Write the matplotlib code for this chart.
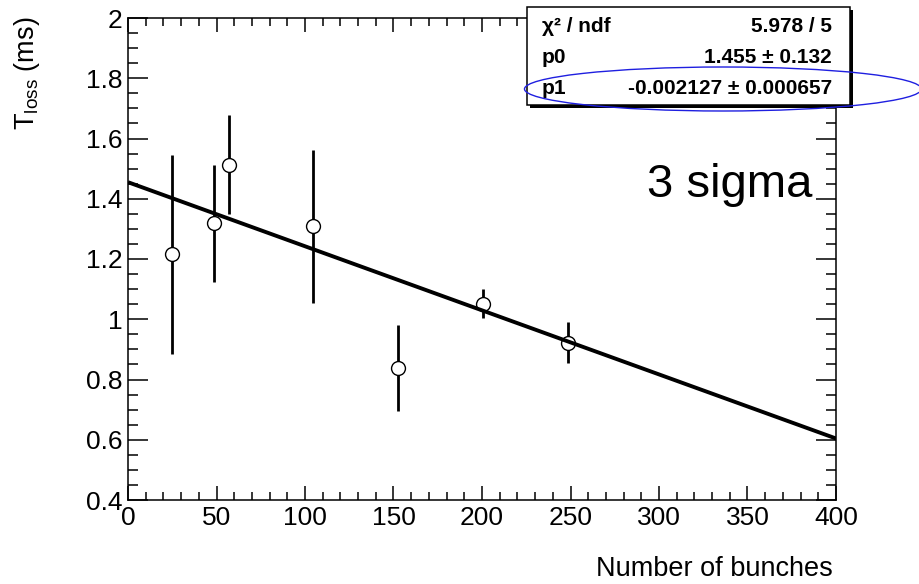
import matplotlib
matplotlib.use("Agg")
import matplotlib.pyplot as plt
from matplotlib.patches import Rectangle, Ellipse
from matplotlib.ticker import MultipleLocator, FixedLocator
import numpy as np

# ---- data ----
n_bunches = [25, 48.5, 57, 104.5, 152.5, 200.5, 248.5]
t_loss = [1.215, 1.318, 1.513, 1.308, 0.839, 1.052, 0.922]
t_err = [0.330, 0.195, 0.165, 0.255, 0.143, 0.047, 0.068]
p0, p1 = 1.455, -0.002127
fit_range = [0, 400]
x_ticks = [0, 50, 100, 150, 200, 250, 300, 350, 400]
y_ticks = [0.4, 0.6, 0.8, 1.0, 1.2, 1.4, 1.6, 1.8, 2.0]
y_ticklabels = ["0.4", "0.6", "0.8", "1", "1.2", "1.4", "1.6", "1.8", "2"]
stat_names = ["\u03c7\u00b2 / ndf", "p0", "p1"]
stat_values = ["5.978 / 5", "1.455 \u00b1 0.132", "-0.002127 \u00b1 0.000657"]

plt.rcParams['font.family'] = ['Liberation Sans', 'DejaVu Sans']
plt.rcParams['mathtext.fontset'] = 'custom'
plt.rcParams['mathtext.rm'] = 'Liberation Sans'
plt.rcParams['mathtext.it'] = 'Liberation Sans:italic'
plt.rcParams['mathtext.bf'] = 'Liberation Sans:bold'

W, H = 920, 584
fig = plt.figure(figsize=(W / 100, H / 100), dpi=100)

def fx(px):
    return px / W

def fy(py):
    return 1 - py / H

ax = fig.add_axes([fx(128), fy(500), (836 - 128) / W, (500 - 18) / H])
ax.set_xlim(0, 400)
ax.set_ylim(0.4, 2.0)

ax.errorbar(n_bunches, t_loss, yerr=t_err, fmt='o', color='black',
            ecolor='black', elinewidth=2.0, capsize=0, ms=10,
            mfc='white', mec='black', mew=1.0, zorder=3)

xf = np.array(fit_range, dtype=float)
ax.plot(xf, p0 + p1 * xf, color='black', lw=2.8, zorder=4,
        solid_capstyle='butt')

ax.xaxis.set_major_locator(FixedLocator(x_ticks))
ax.xaxis.set_minor_locator(MultipleLocator(10))
ax.yaxis.set_major_locator(FixedLocator(y_ticks))
ax.set_yticklabels(y_ticklabels)
ax.yaxis.set_minor_locator(MultipleLocator(0.05))

ax.tick_params(axis='both', which='both', direction='in', top=True,
               right=True, width=1.1, colors='black', labelsize=19)
ax.tick_params(axis='x', which='major', length=10, pad=4)
ax.tick_params(axis='x', which='minor', length=5.8)
ax.tick_params(axis='y', which='major', length=14.4, pad=4)
ax.tick_params(axis='y', which='minor', length=7.2)
for s in ax.spines.values():
    s.set_linewidth(1.1)

ax.set_xlabel('Number of bunches', fontsize=19.5, loc='right', va='baseline')
ax.xaxis.set_label_coords((833 - 128) / 708, -(576 - 500) / 482)
ax.set_ylabel(r'T$_{\mathrm{loss}}$ (ms)', fontsize=19.5, loc='top')
ax.yaxis.set_label_coords((42 - 128) / 708, (500 - 17) / 482)

# ---- "3 sigma" ----
fig.text(fx(812), fy(197), '3 sigma', ha='right', va='baseline',
         fontsize=34, zorder=6)

# ---- stats box ----
bx0, by0, bx1, by1 = 527, 7, 850, 105
sh = 3
fig.add_artist(Rectangle((fx(bx0 + sh), fy(by1 + sh)), (bx1 - bx0) / W,
                         (by1 - by0) / H, transform=fig.transFigure,
                         facecolor='black', edgecolor='black', lw=0,
                         zorder=5))
fig.add_artist(Rectangle((fx(bx0), fy(by1)), (bx1 - bx0) / W,
                         (by1 - by0) / H, transform=fig.transFigure,
                         facecolor='white', edgecolor='black', lw=1.1,
                         zorder=6))
row_base = [32, 63, 94]
for name, val, yb in zip(stat_names, stat_values, row_base):
    fig.text(fx(542), fy(yb), name, ha='left', va='baseline',
             fontsize=15, fontweight='bold', zorder=7)
    fig.text(fx(832), fy(yb), val, ha='right', va='baseline',
             fontsize=15, fontweight='bold', zorder=7)

fig.add_artist(Ellipse((fx(723), fy(89)), 397 / W, 44 / H,
                       transform=fig.transFigure, fill=False,
                       edgecolor='#1f1fe0', lw=1.0, zorder=8))

fig.savefig('out.png', dpi=100)
